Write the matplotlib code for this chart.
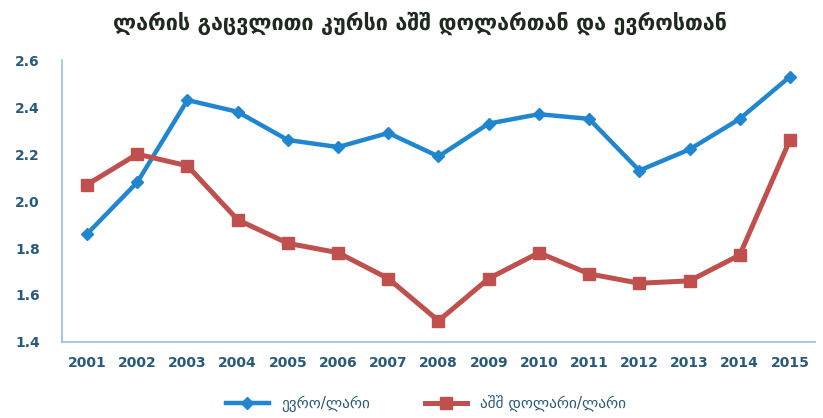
import matplotlib.pyplot as plt
import numpy as np

plt.rcParams['font.family'] = ['DejaVu Sans']

# Lari exchange rates, annual averages
years = [str(y) for y in range(2001, 2016)]
eur_gel = [1.86, 2.08, 2.43, 2.38, 2.26, 2.23, 2.29, 2.19, 2.33, 2.37, 2.35, 2.13, 2.22, 2.35, 2.53]
usd_gel = [2.07, 2.20, 2.15, 1.92, 1.82, 1.78, 1.67, 1.49, 1.67, 1.78, 1.69, 1.65, 1.66, 1.77, 2.26]
yticks = [1.4, 1.6, 1.8, 2.0, 2.2, 2.4, 2.6]

title = "ლარის გაცვლითი კურსი აშშ დოლართან და ევროსთან"
label_eur = "ევრო/ლარი"
label_usd = "აშშ დოლარი/ლარი"

blue = '#1f86cf'
red = '#c0504d'
tick_col = '#2a5a7a'
axis_col = '#8ec3e0'

fig = plt.figure(figsize=(8.23, 4.18), dpi=100)
ax = fig.add_axes([0.0753, 0.182, 0.915, 0.674])

x = np.arange(len(years))
ax.plot(x, eur_gel, color=blue, lw=3.2, marker='D', ms=6.5, label=label_eur)
ax.plot(x, usd_gel, color=red, lw=3.6, marker='s', ms=8.5, label=label_usd)

ax.set_xlim(-0.5, len(years) - 0.5)
ax.set_ylim(1.4, 2.6)
ax.set_xticks(x)
ax.set_xticklabels(years)
ax.set_yticks(yticks)
ax.set_yticklabels([f"{v:.1f}" for v in yticks])
ax.tick_params(length=0, labelsize=10, colors=tick_col, pad=10)
ax.tick_params(axis='y', pad=16)
for lab in ax.get_xticklabels() + ax.get_yticklabels():
    lab.set_fontweight('bold')

for s in ['top', 'right']:
    ax.spines[s].set_visible(False)
for s in ['left', 'bottom']:
    ax.spines[s].set_color(axis_col)
    ax.spines[s].set_linewidth(1.2)

fig.text(0.51, 0.945, title, ha='center', va='center', fontsize=15.5,
         fontweight='bold', color='#1e2a20')

ax.legend(loc='upper center', bbox_to_anchor=(0.483, -0.14), ncol=2, frameon=False,
          fontsize=11, handlelength=2.8, columnspacing=3.6, labelcolor=tick_col)

fig.savefig('out.png', dpi=100)
